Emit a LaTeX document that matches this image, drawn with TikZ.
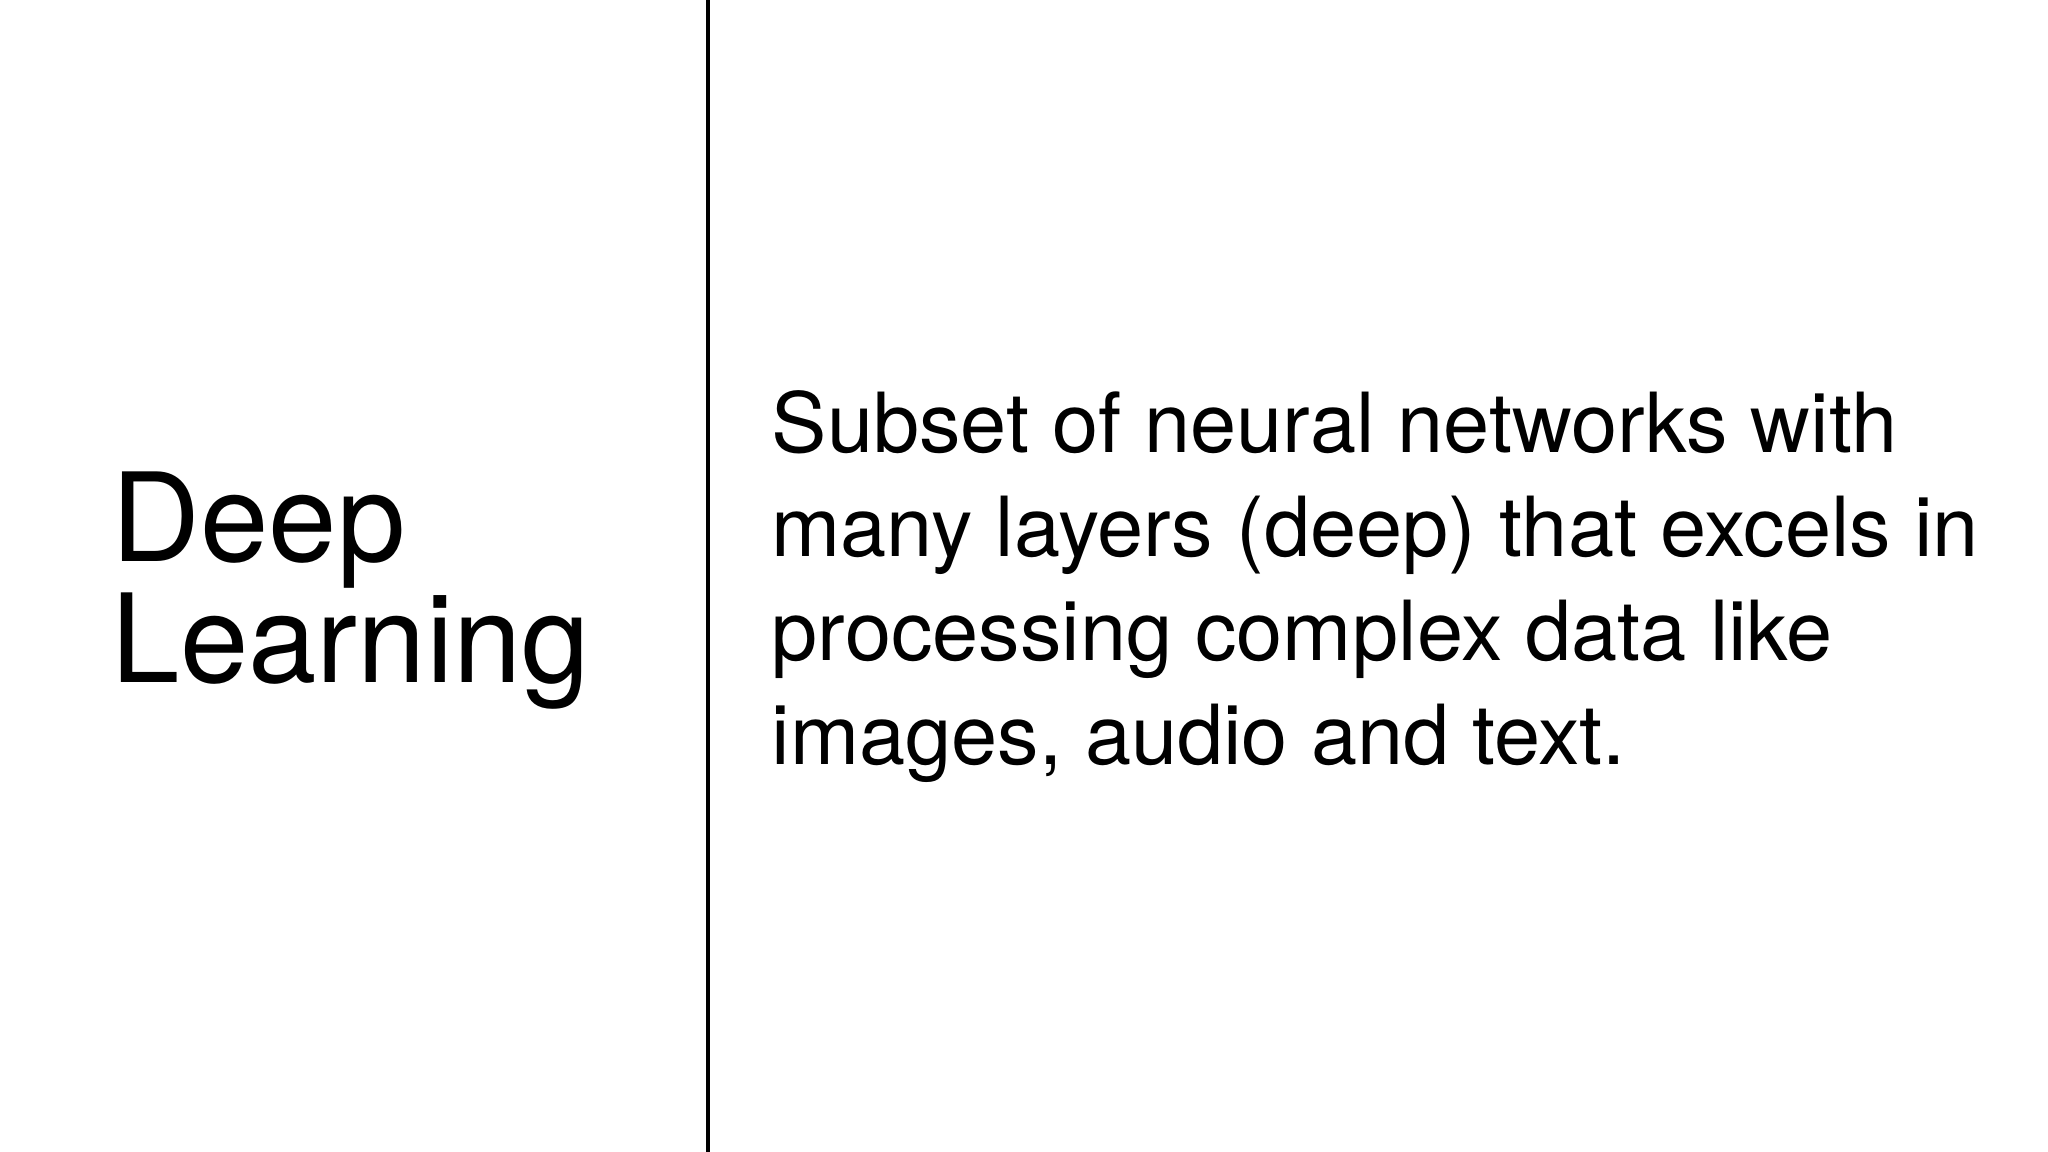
\documentclass[tikz,border=0pt]{standalone}
\usepackage{fontspec}
\setmainfont{TeX Gyre Heros}
\begin{document}
\begin{tikzpicture}[x=1cm,y=1cm,
  title/.style={anchor=base west,inner sep=0pt,font=\fontsize{35pt}{35pt}\selectfont},
  body/.style={anchor=base west,inner sep=0pt,font=\fontsize{23.6pt}{29pt}\selectfont}]
\useasboundingbox (0,0) rectangle (20.48,11.52);
\coordinate (top) at (7.08,11.52);
\coordinate (bot) at (7.08,0);
\draw[line width=0.9pt] (top) -- (bot);
\node[title] (t1) at (1.11,5.90) {Deep};
\node[title] (t2) at (1.11,4.69) {Learning};
\node[body] (b1) at (7.71,6.99) {Subset of neural networks with};
\node[body] (b2) at (7.71,5.95) {many layers (deep) that excels in};
\node[body] (b3) at (7.71,4.91) {processing complex data like};
\node[body] (b4) at (7.71,3.87) {images, audio and text.};
\end{tikzpicture}
\end{document}
